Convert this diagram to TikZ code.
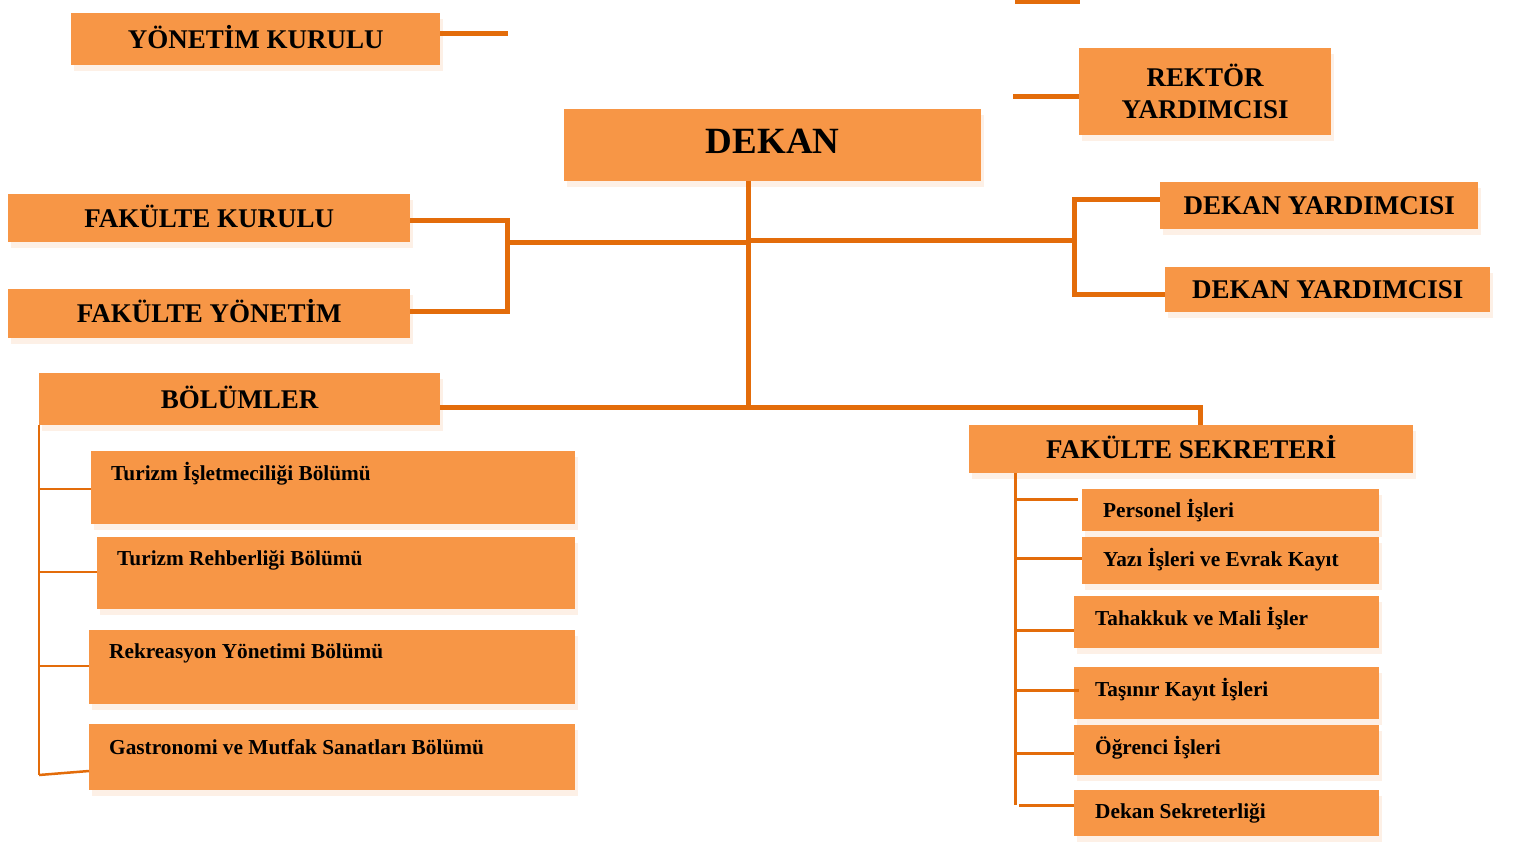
\documentclass[tikz,border=0pt]{standalone}
\usepackage{fontspec}
\setmainfont{Liberation Serif}
\usetikzlibrary{shadows,calc}
\definecolor{boxfill}{HTML}{F79646}
\definecolor{linecol}{HTML}{E36C0A}
\definecolor{shadecol}{HTML}{FDF0E6}
\tikzset{
  box/.style={rectangle, fill=boxfill, inner sep=0pt, anchor=north west,
    font=\bfseries\fontsize{27}{29}\selectfont,
    drop shadow={shadow xshift=3pt, shadow yshift=-6pt, fill=shadecol, opacity=1}},
  onebox/.style={box, text height=18pt, text depth=0pt},
  subbox/.style={box},
  subtext/.style={anchor=west, inner sep=0pt, font=\bfseries\fontsize{21.3}{23}\selectfont},
  conn/.style={draw=linecol, line width=5pt},
  bus/.style={draw=linecol, line width=2.5pt},
}
\begin{document}
\begin{tikzpicture}[x=1pt, y=-1pt]
\useasboundingbox[fill=white] (0,0) rectangle (1515,843);

% top-level boxes
\node[onebox, minimum width=369, minimum height=52] (yk) at (71,13) {YÖNETİM KURULU};
\node[box, minimum width=252, minimum height=87, align=center] (rk) at (1079,48) {REKTÖR\\[3pt]YARDIMCISI};
\node[onebox, minimum width=417, minimum height=72, font=\bfseries\fontsize{37}{40}\selectfont, text height=17pt, text depth=0pt] (dk) at (564,109) {DEKAN};
\node[onebox, minimum width=402, minimum height=48] (fk) at (8,194) {FAKÜLTE KURULU};
\node[onebox, minimum width=402, minimum height=49] (fy) at (8,289) {FAKÜLTE YÖNETİM};
\node[onebox, minimum width=318, minimum height=47] (dy1) at (1160,182) {DEKAN YARDIMCISI};
\node[onebox, minimum width=325, minimum height=45] (dy2) at (1165,267) {DEKAN YARDIMCISI};
\node[onebox, minimum width=401, minimum height=52] (bl) at (39,373) {BÖLÜMLER};
\node[onebox, minimum width=444, minimum height=48] (fs) at (969,425) {FAKÜLTE SEKRETERİ};

% department boxes
\node[subbox, minimum width=484, minimum height=73] (b1) at (91,451) {};
\node[subbox, minimum width=478, minimum height=72] (b2) at (97,537) {};
\node[subbox, minimum width=486, minimum height=74] (b3) at (89,630) {};
\node[subbox, minimum width=486, minimum height=66] (b4) at (89,724) {};
\node[subtext] (t1) at ($(b1.north west)+(20,23)$) {Turizm İşletmeciliği Bölümü};
\node[subtext] (t2) at ($(b2.north west)+(20,23)$) {Turizm Rehberliği Bölümü};
\node[subtext] (t3) at ($(b3.north west)+(20,23)$) {Rekreasyon Yönetimi Bölümü};
\node[subtext] (t4) at ($(b4.north west)+(20,23)$) {Gastronomi ve Mutfak Sanatları Bölümü};

% secretary sub-units
\node[subbox, minimum width=297, minimum height=42] (s1) at (1082,489) {};
\node[subbox, minimum width=297, minimum height=47] (s2) at (1082,537) {};
\node[subbox, minimum width=305, minimum height=52] (s3) at (1074,596) {};
\node[subbox, minimum width=305, minimum height=52] (s4) at (1074,667) {};
\node[subbox, minimum width=305, minimum height=50] (s5) at (1074,725) {};
\node[subbox, minimum width=305, minimum height=46] (s6) at (1074,790) {};
\node[subtext] (u1) at ($(s1.north west)+(21,22)$) {Personel İşleri};
\node[subtext] (u2) at ($(s2.north west)+(21,23)$) {Yazı İşleri ve Evrak Kayıt};
\node[subtext] (u3) at ($(s3.north west)+(21,23)$) {Tahakkuk ve Mali İşler};
\node[subtext] (u4) at ($(s4.north west)+(21,23)$) {Taşınır Kayıt İşleri};
\node[subtext] (u5) at ($(s5.north west)+(21,23)$) {Öğrenci İşleri};
\node[subtext] (u6) at ($(s6.north west)+(21,23)$) {Dekan Sekreterliği};

% free ends and junctions
\coordinate (ykend) at (508,34);
\coordinate (topa) at (1015,2);
\coordinate (topb) at (1080,2);
\coordinate (rkend) at (1013,96);
\coordinate (lj) at (507,242);
\coordinate (rj) at (1075,240);
\coordinate (hubB) at (748,407);
\coordinate (fsj) at (1200,407);

% connectors
\draw[conn] (yk.east |- ykend) -- (ykend);
\draw[conn] (topa) -- (topb);
\draw[conn] (rkend) -- (rk.west |- rkend);
\draw[conn] (dk.south -| hubB) -- (hubB);
\draw[conn] (fk.east |- 0,220) -- (507,220) -- (507,311) -- (fy.east |- 0,311);
\draw[conn] (lj) -- (748,242) -- (748,240) -- (rj);
\draw[conn] (dy1.west |- 0,199) -- (1074,199) -- (1074,294) -- (dy2.west |- 0,294);
\draw[conn] (bl.east |- hubB) -- (fsj) -- (fs.north -| fsj);

% department bus
\draw[bus] (bl.south west) -- (39,775);
\draw[bus] (39,489) -- (b1.west |- 0,489);
\draw[bus] (39,572) -- (b2.west |- 0,572);
\draw[bus] (39,666) -- (b3.west |- 0,666);
\draw[bus] (39,775) -- (b4.west |- 0,771);

% secretary bus
\draw[bus, line width=3pt] (fs.south -| 1015,0) -- (1015,805);
\draw[bus, line width=3pt] (1015,499) -- (1078,499);
\draw[bus, line width=3pt] (1015,558) -- (s2.west |- 0,558);
\draw[bus, line width=3pt] (1015,630) -- (s3.west |- 0,630);
\draw[bus, line width=3pt] (1015,690) -- (1079,690);
\draw[bus, line width=3pt] (1015,753) -- (s5.west |- 0,753);
\draw[bus, line width=3pt] (1019,805) -- (s6.west |- 0,805);
\end{tikzpicture}
\end{document}
